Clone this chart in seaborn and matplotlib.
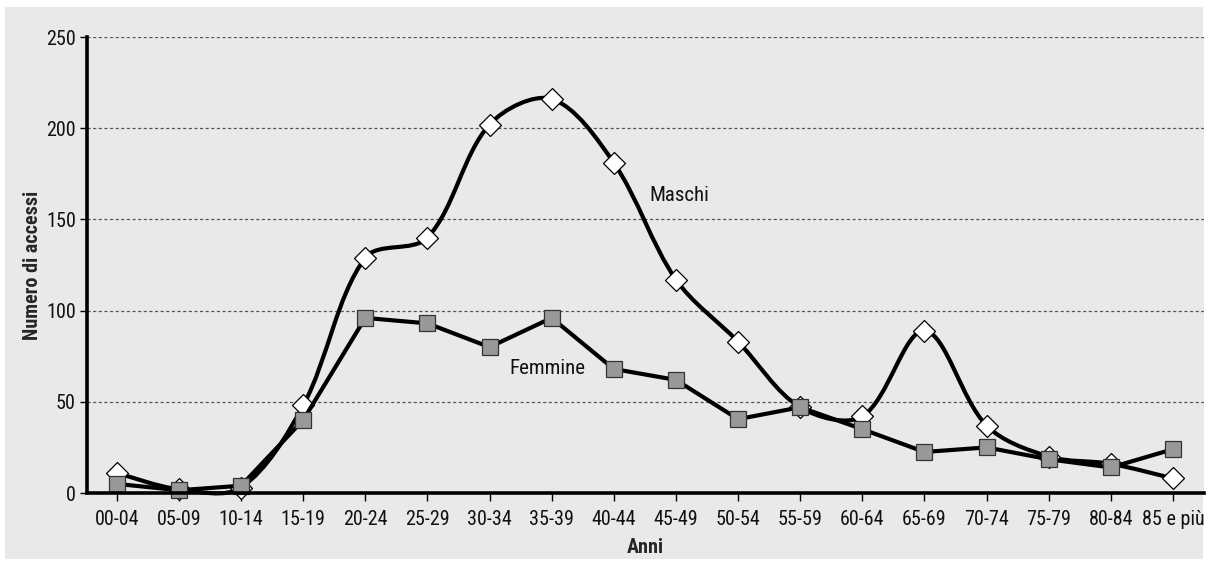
import numpy as np
import pandas as pd
import seaborn as sns
import matplotlib.pyplot as plt
from matplotlib.path import Path
from matplotlib.patches import PathPatch, Rectangle

# data
anni = ['00-04', '05-09', '10-14', '15-19', '20-24', '25-29', '30-34', '35-39', '40-44',
        '45-49', '50-54', '55-59', '60-64', '65-69', '70-74', '75-79', '80-84', '85 e più']
maschi = [11, 2, 3, 48, 129, 140, 202, 216, 181, 117, 83, 47, 42, 89, 37, 20, 16, 8]
femmine = [5, 1.5, 4, 40, 96, 93, 80, 96, 68, 62, 40.5, 47, 35, 22.5, 25, 18.5, 14, 24]
yticks = [0, 50, 100, 150, 200, 250]

df = pd.DataFrame({'Anni': anni, 'Maschi': maschi, 'Femmine': femmine})

sns.set_style('white')
plt.rcParams['font.family'] = ['Roboto Condensed', 'Liberation Sans Narrow', 'Liberation Sans']

fig = plt.figure(figsize=(12.08, 5.61), dpi=100, facecolor='white')
bg = '#e9e9e9'
fig.patches.append(Rectangle((5 / 1208, 2 / 561), 1198 / 1208, 552 / 561,
                             transform=fig.transFigure, facecolor=bg, edgecolor='none', zorder=-5))
ax = fig.add_axes([0.072, 0.1212, 0.9247, 0.8128])
ax.set_facecolor(bg)
ax.set_xlim(-0.48, 17.5)
ax.set_ylim(0, 250)

# smoothed line for Maschi: Bezier through the points, tangents scaled by
# segment lengths in screen space (like the spreadsheet "smoothed line")
xs = np.arange(len(anni), dtype=float)
pts = np.column_stack([xs, np.array(maschi, dtype=float)])
scr = ax.transData.transform(pts)
n = len(pts)
verts = [pts[0]]
codes = [Path.MOVETO]
for i in range(n - 1):
    i0, i3 = max(i - 1, 0), min(i + 2, n - 1)
    d01 = np.hypot(*(scr[i] - scr[i0]))
    d12 = np.hypot(*(scr[i + 1] - scr[i]))
    d23 = np.hypot(*(scr[i3] - scr[i + 1]))
    f1 = d12 / (d01 + d12) / 3 if i > 0 else 1 / 6
    f2 = d12 / (d12 + d23) / 3 if i + 2 < n else 1 / 6
    verts += [pts[i] + (pts[i + 1] - pts[i0]) * f1,
              pts[i + 1] - (pts[i3] - pts[i]) * f2,
              pts[i + 1]]
    codes += [Path.CURVE4] * 3
ax.add_patch(PathPatch(Path(verts, codes), facecolor='none', edgecolor='black',
                       lw=3, zorder=2, clip_on=False))

sns.scatterplot(data=df, x='Anni', y='Maschi', marker='D', s=125, color='white',
                edgecolor='black', linewidth=0.9, zorder=3, clip_on=False, ax=ax)
sns.lineplot(data=df, x='Anni', y='Femmine', color='black', lw=3, marker='s',
             markersize=11.5, markerfacecolor='#999999', markeredgecolor='#333333',
             markeredgewidth=0.9, zorder=4, clip_on=False, ax=ax)

ax.text(9.06, 163, 'Maschi', fontsize=15, ha='center', va='center', color='#111111')
ax.text(6.93, 68, 'Femmine', fontsize=15, ha='center', va='center', color='#111111')

ax.set_xlim(-0.48, 17.5)
ax.set_ylim(0, 250)
ax.set_yticks(yticks)
for y in yticks[1:]:
    ax.axhline(y, color='#555555', lw=0.9, ls=(0, (2.5, 2)), zorder=1)

for s in ['top', 'right']:
    ax.spines[s].set_visible(False)
for s in ['left', 'bottom']:
    ax.spines[s].set_linewidth(2.6)
    ax.spines[s].set_color('black')
    ax.spines[s].set_zorder(5)

ax.tick_params(axis='x', bottom=True, length=6, width=1, labelsize=14.5, pad=6,
               color='black', labelcolor='#111111')
ax.tick_params(axis='y', left=True, length=5, width=1, labelsize=14.5, pad=3,
               color='black', labelcolor='#111111')
ax.set_xlabel('Anni', fontsize=14.5, fontweight='bold', labelpad=7)
ax.set_ylabel('Numero di accessi', fontsize=14.5, fontweight='bold', labelpad=3)

fig.savefig('out.png', dpi=100, facecolor='white')
